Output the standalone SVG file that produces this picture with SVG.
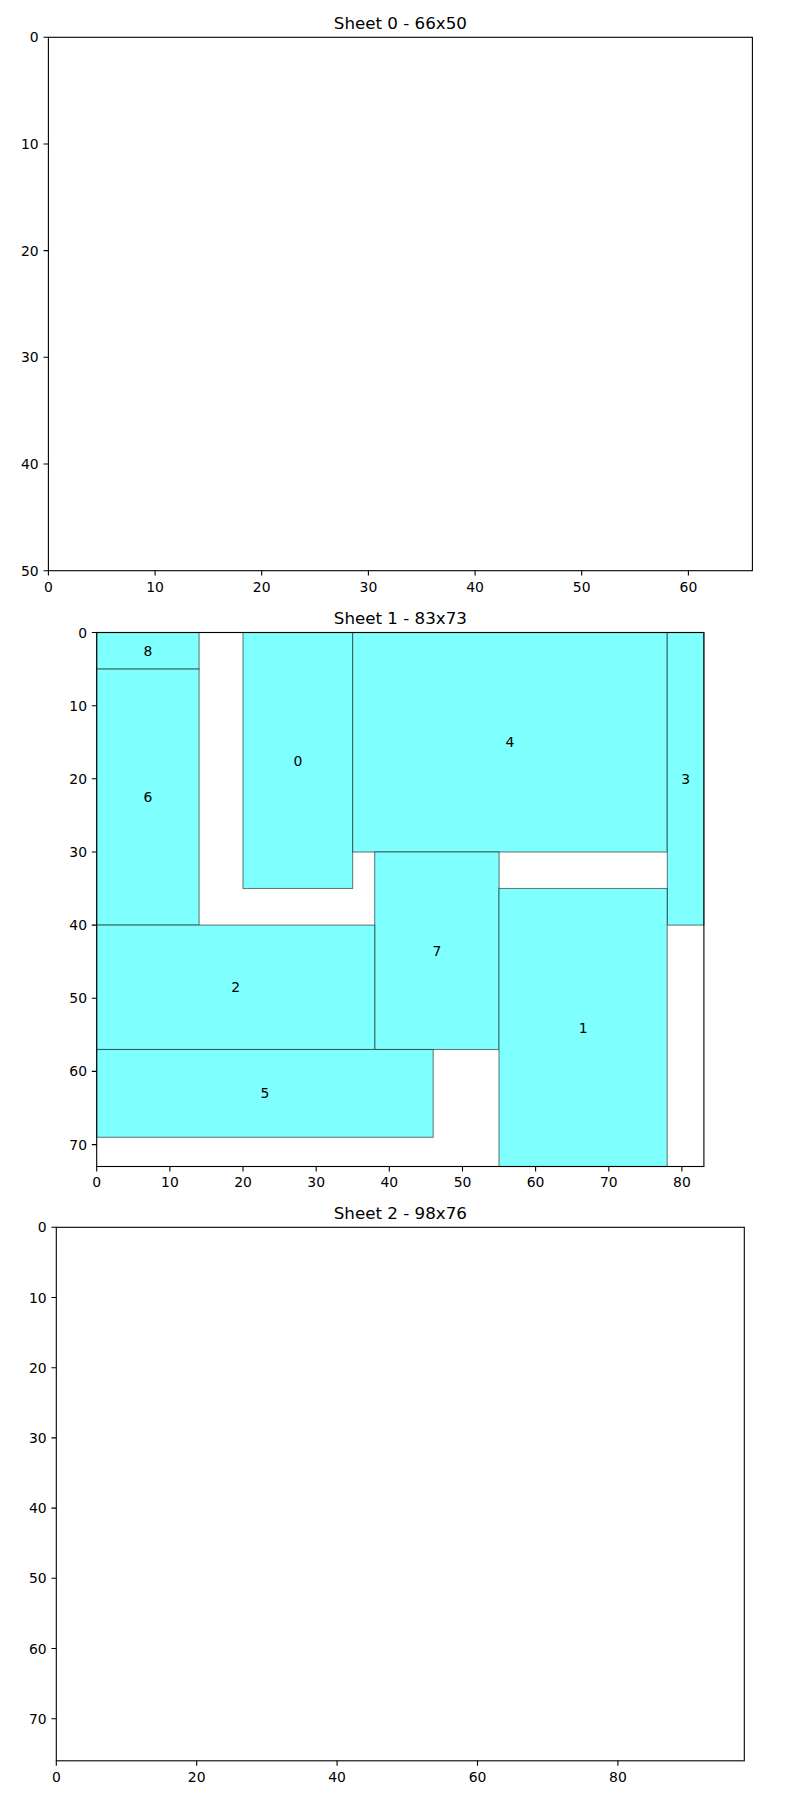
<svg xmlns="http://www.w3.org/2000/svg" width="800" height="1800" viewBox="0 0 800 1800">
<style>
text{font-family:"DejaVu Sans","Liberation Sans",sans-serif;fill:#000}
.title{font-size:16.7px;text-anchor:middle}
.tx{font-size:13.9px;text-anchor:middle}
.ty{font-size:13.9px;text-anchor:end}
.lbl{font-size:13.9px;text-anchor:middle}
.frame{fill:none;stroke:#000;stroke-width:1.1}
.tick{stroke:#000;stroke-width:1.1;fill:none}
.piece{fill:#80ffff;stroke:#000;stroke-opacity:0.5;stroke-width:1.1}
</style>
<rect width="800" height="1800" fill="#fff"/>

<g id="sheet0">
<text class="title" x="400.4" y="29">Sheet 0 - 66x50</text>
<rect class="frame" x="48.4" y="37.3" width="704" height="533.4"/>
<path class="tick" d="M48.4 570.7v4.9M155.1 570.7v4.9M261.7 570.7v4.9M368.4 570.7v4.9M475.1 570.7v4.9M581.7 570.7v4.9M688.4 570.7v4.9M48.4 37.3h-4.9M48.4 144h-4.9M48.4 250.6h-4.9M48.4 357.3h-4.9M48.4 464h-4.9M48.4 570.7h-4.9"/>
<text class="tx" x="48.4" y="591.5">0</text>
<text class="tx" x="155.1" y="591.5">10</text>
<text class="tx" x="261.7" y="591.5">20</text>
<text class="tx" x="368.4" y="591.5">30</text>
<text class="tx" x="475.1" y="591.5">40</text>
<text class="tx" x="581.7" y="591.5">50</text>
<text class="tx" x="688.4" y="591.5">60</text>
<text class="ty" x="38.7" y="42.3">0</text>
<text class="ty" x="38.7" y="149">10</text>
<text class="ty" x="38.7" y="255.6">20</text>
<text class="ty" x="38.7" y="362.3">30</text>
<text class="ty" x="38.7" y="469">40</text>
<text class="ty" x="38.7" y="575.7">50</text>
</g>

<g id="sheet1">
<text class="title" x="400.4" y="624.3">Sheet 1 - 83x73</text>
<g id="piece8"><rect class="piece" x="96.7" y="632.5" width="102.4" height="36.6"/><text class="lbl" x="147.9" y="655.8">8</text></g>
<g id="piece6"><rect class="piece" x="96.7" y="669.1" width="102.4" height="256"/><text class="lbl" x="147.9" y="802.1">6</text></g>
<g id="piece0"><rect class="piece" x="243" y="632.5" width="109.7" height="256"/><text class="lbl" x="297.9" y="765.5">0</text></g>
<g id="piece4"><rect class="piece" x="352.7" y="632.5" width="314.5" height="219.5"/><text class="lbl" x="510" y="747.2">4</text></g>
<g id="piece3"><rect class="piece" x="667.3" y="632.5" width="36.6" height="292.6"/><text class="lbl" x="685.6" y="783.8">3</text></g>
<g id="piece7"><rect class="piece" x="374.7" y="852" width="124.4" height="197.5"/><text class="lbl" x="436.8" y="955.7">7</text></g>
<g id="piece2"><rect class="piece" x="96.7" y="925.1" width="278" height="124.4"/><text class="lbl" x="235.7" y="992.3">2</text></g>
<g id="piece1"><rect class="piece" x="499" y="888.5" width="168.2" height="278"/><text class="lbl" x="583.1" y="1032.5">1</text></g>
<g id="piece5"><rect class="piece" x="96.7" y="1049.5" width="336.5" height="87.8"/><text class="lbl" x="264.9" y="1098.3">5</text></g>
<rect class="frame" x="96.7" y="632.5" width="607.2" height="534"/>
<path class="tick" d="M96.7 1166.5v4.9M169.9 1166.5v4.9M243 1166.5v4.9M316.2 1166.5v4.9M389.3 1166.5v4.9M462.5 1166.5v4.9M535.6 1166.5v4.9M608.8 1166.5v4.9M681.9 1166.5v4.9M96.7 632.5h-4.9M96.7 705.7h-4.9M96.7 778.8h-4.9M96.7 852h-4.9M96.7 925.1h-4.9M96.7 998.3h-4.9M96.7 1071.4h-4.9M96.7 1144.6h-4.9"/>
<text class="tx" x="96.7" y="1187.3">0</text>
<text class="tx" x="169.9" y="1187.3">10</text>
<text class="tx" x="243" y="1187.3">20</text>
<text class="tx" x="316.2" y="1187.3">30</text>
<text class="tx" x="389.3" y="1187.3">40</text>
<text class="tx" x="462.5" y="1187.3">50</text>
<text class="tx" x="535.6" y="1187.3">60</text>
<text class="tx" x="608.8" y="1187.3">70</text>
<text class="tx" x="681.9" y="1187.3">80</text>
<text class="ty" x="87" y="637.5">0</text>
<text class="ty" x="87" y="710.7">10</text>
<text class="ty" x="87" y="783.8">20</text>
<text class="ty" x="87" y="857">30</text>
<text class="ty" x="87" y="930.1">40</text>
<text class="ty" x="87" y="1003.3">50</text>
<text class="ty" x="87" y="1076.4">60</text>
<text class="ty" x="87" y="1149.6">70</text>
</g>

<g id="sheet2">
<text class="title" x="400.3" y="1219">Sheet 2 - 98x76</text>
<rect class="frame" x="56.3" y="1227.3" width="688" height="533.5"/>
<path class="tick" d="M56.3 1760.8v4.9M196.7 1760.8v4.9M337.1 1760.8v4.9M477.5 1760.8v4.9M617.9 1760.8v4.9M56.3 1227.3h-4.9M56.3 1297.5h-4.9M56.3 1367.7h-4.9M56.3 1437.9h-4.9M56.3 1508.1h-4.9M56.3 1578.3h-4.9M56.3 1648.5h-4.9M56.3 1718.7h-4.9"/>
<text class="tx" x="56.3" y="1781.6">0</text>
<text class="tx" x="196.7" y="1781.6">20</text>
<text class="tx" x="337.1" y="1781.6">40</text>
<text class="tx" x="477.5" y="1781.6">60</text>
<text class="tx" x="617.9" y="1781.6">80</text>
<text class="ty" x="46.6" y="1232.3">0</text>
<text class="ty" x="46.6" y="1302.5">10</text>
<text class="ty" x="46.6" y="1372.7">20</text>
<text class="ty" x="46.6" y="1442.9">30</text>
<text class="ty" x="46.6" y="1513.1">40</text>
<text class="ty" x="46.6" y="1583.3">50</text>
<text class="ty" x="46.6" y="1653.5">60</text>
<text class="ty" x="46.6" y="1723.7">70</text>
</g>
</svg>
